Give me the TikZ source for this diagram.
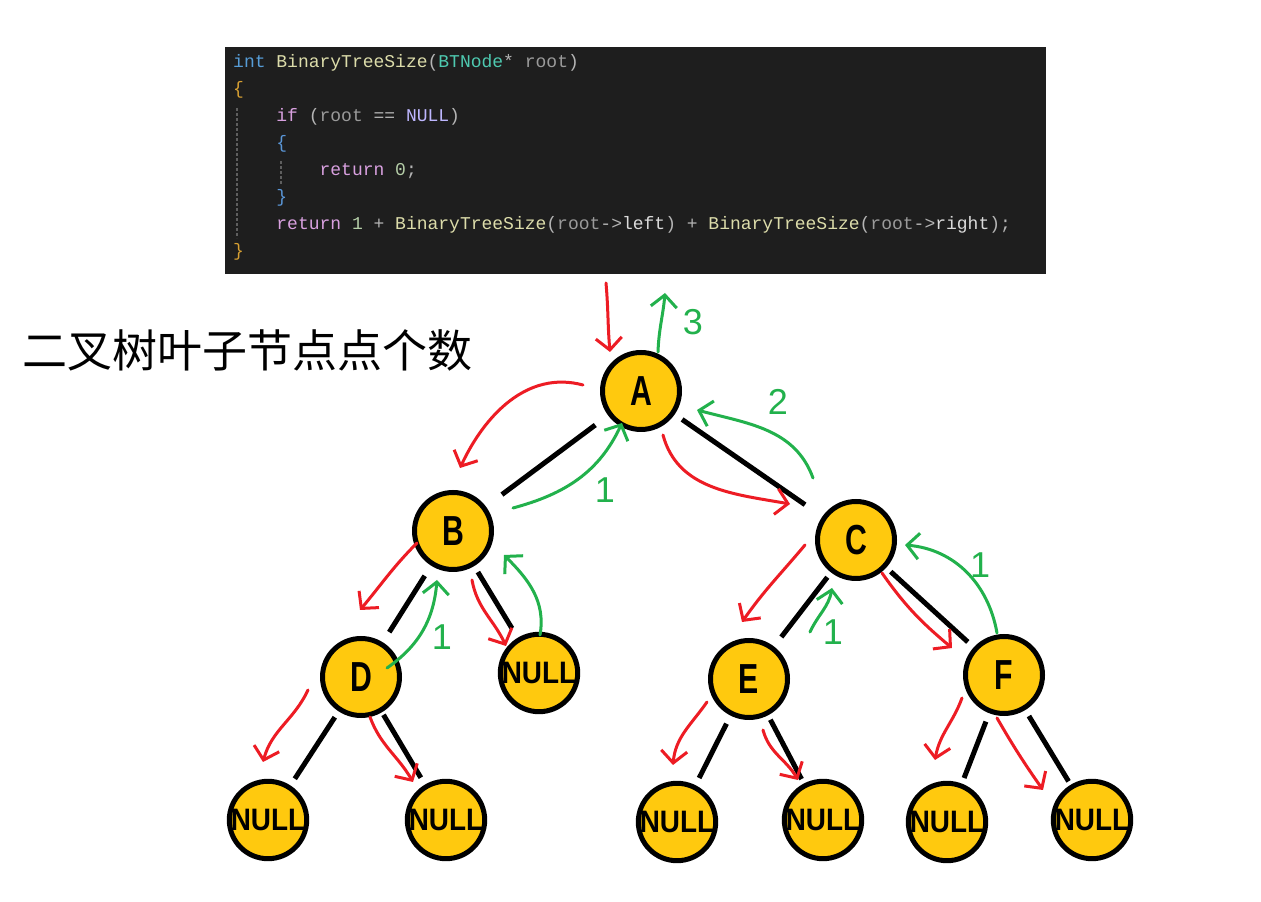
\documentclass[tikz,border=0pt]{standalone}
\usepackage{graphicx}
\usepackage{fontspec}
\setmainfont{Liberation Sans}
\newfontfamily\codefont[WordSpace={1,0,0}]{Liberation Mono}
\newfontfamily\cjkfont{Noto Sans CJK SC}
\usetikzlibrary{arrows.meta, positioning, calc}

\definecolor{nodefill}{RGB}{255, 201, 14}
\definecolor{callred}{RGB}{237, 28, 36}
\definecolor{retgreen}{RGB}{34, 177, 76}
\definecolor{codebg}{RGB}{30, 30, 30}
\definecolor{kwblue}{RGB}{86, 156, 214}
\definecolor{fnyellow}{RGB}{220, 220, 170}
\definecolor{typeteal}{RGB}{78, 201, 176}
\definecolor{paramgray}{RGB}{154, 154, 154}
\definecolor{ctrlpink}{RGB}{216, 160, 223}
\definecolor{macropurple}{RGB}{190, 183, 255}
\definecolor{numgreen}{RGB}{181, 206, 168}
\definecolor{punctgray}{RGB}{180, 180, 180}
\definecolor{fieldwhite}{RGB}{218, 218, 218}
\definecolor{bracegold}{RGB}{215, 160, 50}
\definecolor{braceblue}{RGB}{90, 150, 215}
\definecolor{guidegray}{RGB}{95, 95, 95}

\newcommand{\slim}[1]{\scalebox{0.72}[1]{\bfseries #1}}
\newcommand{\slimnull}{\scalebox{0.9}[1]{\bfseries NULL}}
\newcommand{\ind}{\hspace*{43.2pt}}

\tikzset{
  treenode/.style={circle, draw=black, line width=5pt, fill=nodefill,
                   minimum size=77pt, inner sep=0pt},
  letter/.style={treenode, font=\fontsize{42}{42}\selectfont},
  nullnode/.style={treenode, font=\fontsize{31}{31}\selectfont},
  link/.style={line width=5pt, shorten <=7pt, shorten >=8pt},
  call/.style={draw=callred, line width=3pt, line cap=round, line join=round,
               -{Straight Barb[length=12pt, width=26pt, line width=3pt]}},
  ret/.style={draw=retgreen, line width=3pt, line cap=round, line join=round,
              -{Straight Barb[length=12pt, width=26pt, line width=3pt]}},
  stepnum/.style={text=retgreen, font=\fontsize{36}{36}\selectfont}
}

\begin{document}
\begin{tikzpicture}[x=1pt, y=1pt]
\useasboundingbox[fill=white] (0,0) rectangle (1261,902);

\node (codebox) [fill=codebg, minimum width=821pt, minimum height=227pt,
                 inner sep=0pt, anchor=north west] at (225,855) {};
\node (source) [anchor=north west, inner sep=0pt, align=left, text=punctgray,
                font=\codefont\fontsize{18}{27}\selectfont] at (233,848) {%
  \textcolor{kwblue}{int} \textcolor{fnyellow}{BinaryTreeSize}(\textcolor{typeteal}{BTNode}* \textcolor{paramgray}{root})\\
  \textcolor{bracegold}{\{}\\
  \ind\textcolor{ctrlpink}{if} (\textcolor{paramgray}{root} == \textcolor{macropurple}{NULL})\\
  \ind\textcolor{braceblue}{\{}\\
  \ind\ind\textcolor{ctrlpink}{return} \textcolor{numgreen}{0};\\
  \ind\textcolor{braceblue}{\}}\\
  \ind\textcolor{ctrlpink}{return} \textcolor{numgreen}{1} + \textcolor{fnyellow}{BinaryTreeSize}(\textcolor{paramgray}{root}->\textcolor{fieldwhite}{left}) + \textcolor{fnyellow}{BinaryTreeSize}(\textcolor{paramgray}{root}->\textcolor{fieldwhite}{right});\\
  \textcolor{bracegold}{\}}};
\draw[guidegray, line width=1.2pt, dash pattern=on 3pt off 2pt] (237,794) -- (237,664);
\draw[guidegray, line width=1.2pt, dash pattern=on 3pt off 2pt] (281,741) -- (281,717);

\node (title) [font=\cjkfont\fontsize{45}{45}\selectfont] at (248,552) {二叉树叶子节点点个数};

\node[letter] (A) at (641,511) {\slim{A}};
\node[letter] (B) at (453,371) {\slim{B}};
\node[letter] (C) at (856,362) {\slim{C}};
\node[letter] (D) at (361,225) {\slim{D}};
\node[nullnode] (N0) at (539,229) {\slimnull};
\node[letter] (E) at (749,223) {\slim{E}};
\node[letter] (F) at (1004,227) {\slim{F}};
\node[nullnode] (N1) at (268,82) {\slimnull};
\node[nullnode] (N2) at (446,82) {\slimnull};
\node[nullnode] (N3) at (677,80) {\slimnull};
\node[nullnode] (N4) at (823,82) {\slimnull};
\node[nullnode] (N5) at (947,80) {\slimnull};
\node[nullnode] (N6) at (1092,82) {\slimnull};

\draw[link, shorten <=16pt, shorten >=20pt] (A) -- (B);
\draw[link, shorten <=9pt, shorten >=21pt] (A) -- (C);
\draw[link, shorten <=12pt, shorten >=12pt] (B) -- (D);
\draw[link, shorten >=11pt] (B) -- (N0);
\draw[link, shorten <=6pt, shorten >=12pt] (C) -- (E);
\draw[link, shorten <=6pt] (C) -- (F);
\draw[link] (D) -- (N1);
\draw[link, shorten <=3pt] (D) -- (N2);
\draw[link, shorten <=9pt] (E) -- (N3);
\draw[link, shorten <=5pt, shorten >=5pt] (E) -- (N4);
\draw[link, shorten <=9pt, shorten >=6pt] (F) -- (N5);
\draw[link, shorten >=4pt] (F) -- (N6);

\draw[call] ($(A)+(-35,108)$) to[out=-85, in=95] ($(A)+(-31,39)$);
\draw[call] ($(A)+(-58,6)$) to[out=165, in=65] ($(B)+(7,63)$);
\draw[call] ($(A)+(22,-44)$) to[out=-75, in=170] ($(C)+(-66,36)$);
\draw[call] ($(B)+(-36,-12)$) to[out=-135, in=50] ($(D)+(-1,67)$);
\draw[call] ($(B)+(19,-49)$) to[out=-80, in=115] ($(N0)+(-33,27)$);
\draw[call] ($(C)+(-51,-5)$) to[out=-130, in=55] ($(E)+(-7,57)$);
\draw[call] ($(C)+(26,-33)$) to[out=-55, in=140] ($(F)+(-52,27)$);
\draw[call] ($(D)+(-53,-13)$) to[out=-115, in=75] ($(N1)+(-5,58)$);
\draw[call] ($(D)+(9,-40)$) to[out=-70, in=120] ($(N2)+(-33,38)$);
\draw[call] ($(E)+(-42,-23)$) to[out=-125, in=85] ($(N3)+(-4,57)$);
\draw[call] ($(E)+(14,-51)$) to[out=-75, in=120] ($(N4)+(-25,40)$);
\draw[call] ($(F)+(-42,-23)$) to[out=-110, in=80] ($(N5)+(-12,62)$);
\draw[call] ($(F)+(-7,-43)$) to[out=-60, in=125] ($(N6)+(-49,30)$);

\draw[ret] ($(A)+(17,39)$) to[out=88, in=-95] ($(A)+(24,98)$);
\draw[ret] ($(C)+(-43,62)$) to[out=110, in=-15] ($(A)+(56,-19)$);
\draw[ret] ($(B)+(60,23)$) to[out=15, in=-115] ($(A)+(-19,-32)$);
\draw[ret] ($(D)+(26,9)$) to[out=35, in=-95] ($(B)+(-16,-49)$);
\draw[ret] ($(N0)+(1,38)$) to[out=80, in=-45] ($(B)+(51,-24)$);
\draw[ret] ($(E)+(61,47)$) to[out=65, in=-100] ($(C)+(-24,-48)$);
\draw[ret] ($(F)+(-7,42)$) to[out=100, in=-5] ($(C)+(49,-5)$);

\node[stepnum] (s3) at ($(A)+(52,69)$) {3};
\node[stepnum] (s2) at ($(A)+(137,-11)$) {2};
\node[stepnum] (s1a) at ($(A)+(-36,-99)$) {1};
\node[stepnum] (s1b) at ($(B)+(-11,-106)$) {1};
\node[stepnum] (s1c) at ($(C)+(-23,-92)$) {1};
\node[stepnum] (s1d) at ($(F)+(-24,110)$) {1};
\end{tikzpicture}
\end{document}
